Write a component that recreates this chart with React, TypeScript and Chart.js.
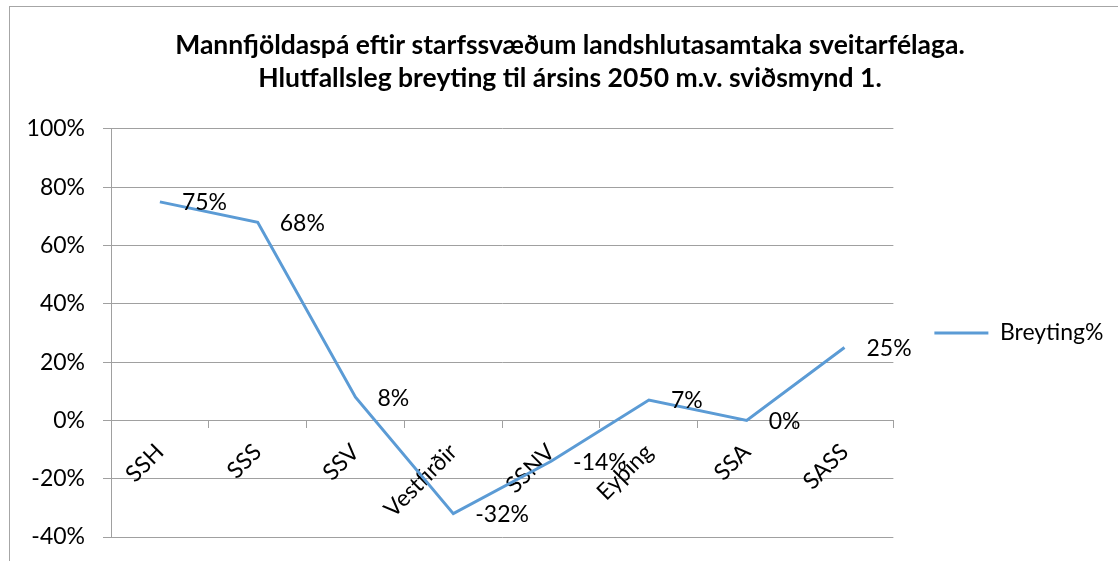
import React, { useEffect, useRef } from "react";
import { Chart, registerables } from "chart.js";

Chart.register(...registerables);

const categories = ["SSH", "SSS", "SSV", "Vestfirðir", "SSNV", "Eyþing", "SSA", "SASS"];
const breyting = [75, 68, 8, -32, -14, 7, 0, 25];
const seriesName = "Breyting%";
const titleLines = [
  "Mannfjöldaspá eftir starfssvæðum landshlutasamtaka sveitarfélaga.",
  "Hlutfallsleg breyting til ársins 2050 m.v. sviðsmynd 1.",
];
const yMin = -40;
const yMax = 100;
const yStep = 20;

const FONT = "Lato, Carlito, Calibri, sans-serif";
const LINE_COLOR = "#5b9bd5";
const GRID_COLOR = "#a0a0a0";
const TEXT_SIZE = 23;

const dataLabelPlugin = {
  id: "dataLabels",
  afterLayout(chart: any) {
    // let y tick labels use the left padding without being clipped
    const y = chart.scales.y;
    if (y) y.left = 0;
  },
  afterDatasetsDraw(chart: any) {
    const ctx = chart.ctx;
    chart.data.datasets.forEach((ds: any, i: number) => {
      const meta = chart.getDatasetMeta(i);
      ctx.save();
      ctx.font = `${TEXT_SIZE}px ${FONT}`;
      ctx.fillStyle = "#000";
      ctx.textAlign = "left";
      ctx.textBaseline = "middle";
      meta.data.forEach((pt: any, j: number) => {
        ctx.fillText(`${ds.data[j]}%`, pt.x + 22, pt.y + 1);
      });
      ctx.restore();
    });
  },
};

export default function App() {
  const ref = useRef<HTMLCanvasElement | null>(null);
  useEffect(() => {
    if (!ref.current) return;
    const chart = new Chart(ref.current, {
      type: "line",
      data: {
        labels: categories,
        datasets: [
          {
            label: seriesName,
            data: breyting,
            borderColor: LINE_COLOR,
            backgroundColor: LINE_COLOR,
            borderWidth: 3,
            pointRadius: 0,
            tension: 0,
          },
        ],
      },
      options: {
        animation: false,
        responsive: false,
        layout: { padding: { left: 16.5, right: 18.5, top: 0, bottom: 40 } },
        plugins: {
          title: {
            display: true,
            text: titleLines,
            color: "#000",
            font: { family: FONT, size: 26.5, weight: "bold", lineHeight: 1.245 },
            padding: { top: 22, bottom: 34 },
          },
          legend: {
            position: "right",
            fullSize: false,
            labels: {
              color: "#000",
              font: { family: FONT, size: TEXT_SIZE },
              boxWidth: 54,
              boxHeight: 0,
              padding: 41,
              generateLabels: () => [
                {
                  text: seriesName,
                  strokeStyle: LINE_COLOR,
                  fillStyle: LINE_COLOR,
                  lineWidth: 3,
                  datasetIndex: 0,
                },
              ],
            },
          },
          tooltip: { enabled: false },
        },
        scales: {
          x: {
            type: "category",
            position: { y: 0 } as any,
            offset: true,
            grid: {
              offset: true,
              drawOnChartArea: false,
              drawTicks: true,
              tickLength: 7,
              color: GRID_COLOR,
            },
            border: { display: true, color: GRID_COLOR, width: 1 },
            ticks: {
              color: "#000",
              font: { family: FONT, size: TEXT_SIZE },
              minRotation: 45,
              maxRotation: 45,
              autoSkip: false,
              padding: 11,
            },
            afterFit: (s: any) => {
              s.height = 0;
            },
          },
          y: {
            min: yMin,
            max: yMax,
            grid: { color: GRID_COLOR, tickLength: 8 },
            border: { display: true, color: GRID_COLOR },
            ticks: {
              stepSize: yStep,
              color: "#000",
              font: { family: FONT, size: TEXT_SIZE },
              padding: 18,
              callback: (v: any) => `${v}%`,
            },
            afterFit: (s: any) => {
              s.width = 84.5;
            },
          },
        },
      },
      plugins: [dataLabelPlugin],
    });
    return () => chart.destroy();
  }, []);

  return (
    <div style={{ position: "fixed", left: 0, top: 0, width: "100vw", height: "100vh", overflow: "hidden", background: "#fff" }}>
      <div
        style={{
          position: "absolute",
          left: 9,
          top: 6,
          width: 1122,
          height: 570,
          border: "1px solid #a6a6a6",
          background: "#fff",
        }}
      >
        <canvas ref={ref} width={1122} height={570} style={{ display: "block" }} />
      </div>
    </div>
  );
}
